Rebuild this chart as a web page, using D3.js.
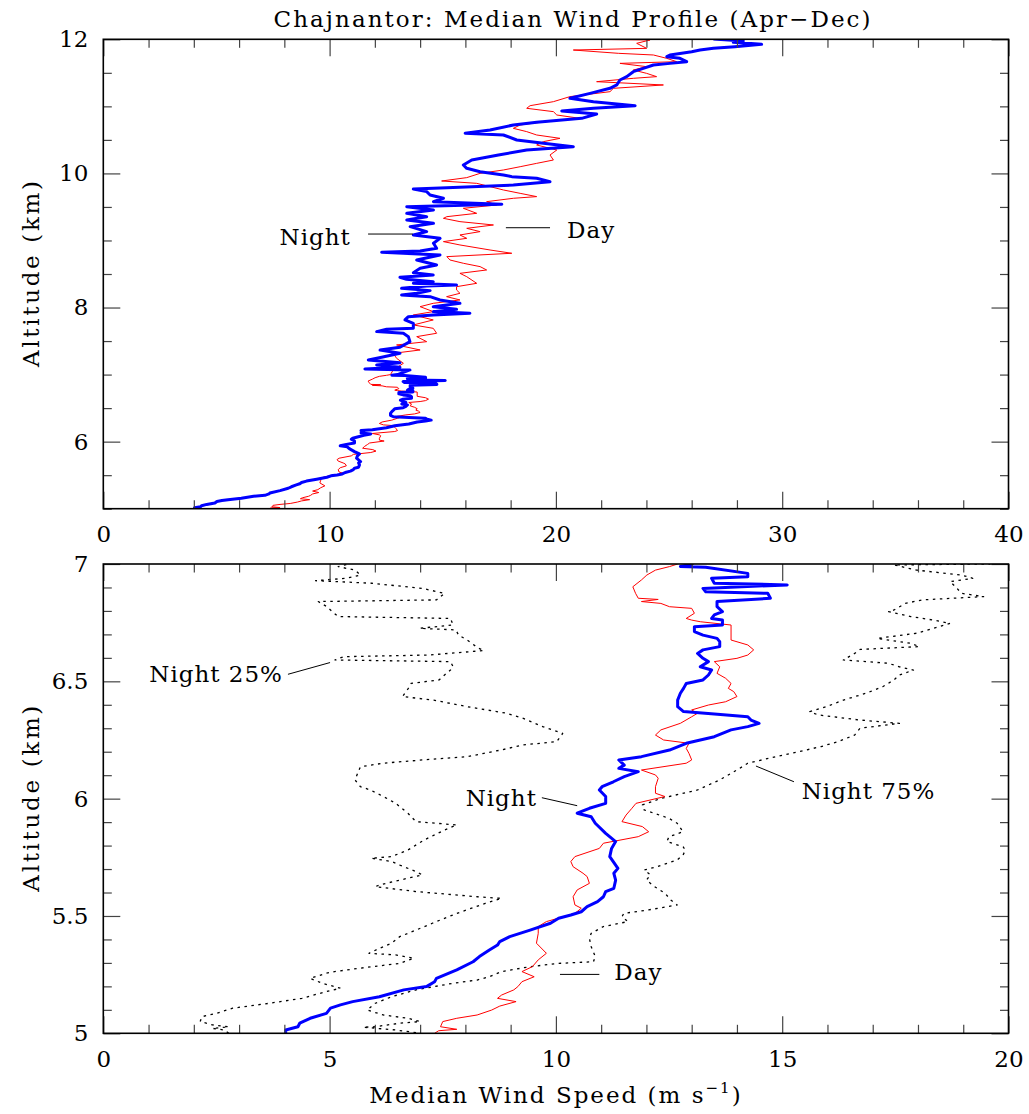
<!DOCTYPE html>
<html lang="en">
<head>
<meta charset="UTF-8">
<title>Chajnantor wind profile</title>
<style>
  body { margin: 0; background: #fff; }
  text { font-family: "DejaVu Serif", serif; fill: #000; }
</style>
</head>
<body>
<div class="container"></div>
<script src="https://cdn.jsdelivr.net/npm/d3@7/dist/d3.min.js"></script>
<script>
// ---- data: [altitude km, median wind speed m/s] ----
const nightLow = [[5.000,4.03],[5.014,4.03],[5.028,4.30],[5.043,4.34],[5.064,4.57],[5.085,4.93],[5.107,5.02],[5.121,5.24],[5.135,5.51],[5.156,6.10],[5.185,6.64],[5.199,7.14],[5.220,7.32],[5.234,7.36],[5.270,7.81],[5.305,8.17],[5.327,8.31],[5.355,8.53],[5.376,8.71],[5.391,8.76],[5.412,8.98],[5.440,9.43],[5.469,9.88],[5.490,10.06],[5.504,10.33],[5.518,10.56],[5.540,10.69],[5.561,10.92],[5.582,11.05],[5.604,11.10],[5.618,11.28],[5.653,11.32],[5.682,11.28],[5.703,11.37],[5.753,11.19],[5.788,11.23],[5.817,11.32],[5.852,11.10],[5.895,10.87],[5.923,10.78],[5.938,10.47],[5.959,10.74],[5.980,11.10],[6.009,11.10],[6.037,10.96],[6.051,11.02],[6.072,11.27],[6.094,11.51],[6.115,11.82],[6.129,11.39],[6.143,11.51],[6.165,11.39],[6.179,11.89],[6.207,12.51],[6.236,12.88],[6.264,13.50],[6.293,13.87],[6.307,14.24],[6.321,14.49],[6.335,14.31],[6.349,14.24],[6.361,13.50],[6.371,12.82],[6.392,12.69],[6.420,12.69],[6.449,12.75],[6.470,12.82],[6.491,12.88],[6.506,13.25],[6.527,13.37],[6.548,13.44],[6.562,13.19],[6.584,13.37],[6.598,13.25],[6.619,13.13],[6.634,13.25],[6.648,13.62],[6.669,13.62],[6.683,13.56],[6.697,13.25],[6.712,13.06],[6.733,13.06],[6.740,13.68],[6.761,13.68],[6.768,13.44],[6.783,13.50],[6.797,13.68],[6.818,13.56],[6.840,13.56],[6.854,14.74],[6.875,14.68],[6.882,13.31],[6.896,13.25],[6.911,15.11],[6.918,13.50],[6.939,13.44],[6.946,14.24],[6.960,14.24],[6.986,13.31],[6.989,12.75],[7.000,13.00]]

const nightHigh = [[7.069,13.55],[7.084,11.56],[7.109,13.11],[7.143,12.08],[7.178,13.11],[7.218,11.71],[7.258,12.30],[7.317,13.11],[7.367,12.23],[7.407,13.11],[7.491,13.55],[7.566,13.48],[7.616,13.26],[7.641,12.08],[7.675,12.52],[7.690,13.70],[7.765,13.70],[7.815,13.33],[7.864,13.48],[7.889,14.58],[7.914,16.20],[7.939,14.58],[7.974,15.61],[8.013,14.58],[8.063,15.76],[8.113,14.88],[8.162,14.44],[8.187,13.18],[8.212,13.85],[8.252,14.44],[8.287,13.18],[8.321,14.29],[8.336,15.61],[8.361,13.70],[8.386,14.58],[8.421,13.40],[8.451,13.11],[8.485,14.58],[8.520,13.70],[8.585,14.00],[8.635,14.73],[8.709,13.85],[8.784,14.88],[8.824,12.30],[8.843,14.00],[8.883,14.73],[8.958,14.59],[9.032,14.88],[9.082,13.70],[9.132,14.29],[9.206,13.56],[9.256,14.59],[9.306,13.41],[9.355,14.29],[9.405,13.41],[9.455,14.59],[9.504,13.41],[9.539,17.61],[9.579,14.59],[9.629,15.03],[9.678,14.44],[9.728,14.29],[9.768,13.70],[9.788,15.18],[9.827,18.12],[9.877,19.74],[9.927,19.15],[9.952,18.05],[9.977,17.68],[10.026,16.65],[10.076,16.06],[10.126,15.91],[10.200,16.28],[10.275,17.46],[10.349,18.71],[10.399,20.77],[10.449,19.45],[10.498,18.27],[10.573,17.68],[10.598,15.99],[10.648,17.09],[10.722,18.12],[10.762,19.15],[10.821,21.14],[10.886,21.80],[10.931,20.26],[10.971,21.66],[11.010,23.50],[11.070,21.66],[11.120,20.62],[11.194,21.51],[11.269,22.39],[11.319,22.69],[11.393,22.83],[11.443,23.13],[11.517,23.42],[11.567,23.86],[11.617,24.31],[11.641,25.04],[11.666,25.78],[11.716,25.48],[11.741,24.90],[11.766,25.04],[11.815,26.00],[11.840,26.37],[11.865,26.96],[11.890,27.91],[11.925,29.09],[11.955,27.84],[11.975,28.28],[12.004,26.96]]

const dayLow = [[5.000,7.32],[5.011,7.41],[5.017,7.81],[5.028,7.45],[5.050,7.50],[5.064,7.81],[5.078,8.26],[5.099,8.58],[5.116,8.76],[5.135,9.12],[5.149,8.71],[5.163,8.80],[5.185,9.07],[5.199,9.16],[5.220,9.25],[5.241,9.52],[5.263,9.25],[5.284,9.48],[5.313,9.61],[5.341,9.79],[5.384,9.57],[5.426,9.61],[5.455,9.61],[5.476,9.79],[5.511,10.42],[5.533,10.56],[5.547,10.42],[5.582,10.38],[5.611,10.47],[5.639,10.74],[5.668,10.69],[5.682,10.60],[5.710,10.38],[5.732,10.33],[5.753,10.42],[5.788,10.96],[5.810,11.05],[5.838,11.82],[5.859,12.05],[5.881,11.91],[5.902,11.46],[5.930,11.55],[5.959,11.68],[5.980,11.77],[6.009,12.41],[6.023,12.20],[6.051,12.20],[6.087,12.26],[6.101,12.20],[6.122,11.89],[6.151,12.88],[6.165,13.00],[6.193,12.94],[6.214,12.88],[6.236,12.94],[6.250,12.38],[6.271,12.20],[6.293,12.32],[6.321,12.75],[6.349,13.00],[6.364,13.13],[6.378,13.00],[6.399,13.37],[6.413,13.75],[6.435,14.00],[6.456,13.93],[6.470,13.81],[6.491,13.87],[6.513,13.75],[6.534,13.56],[6.562,13.62],[6.584,13.50],[6.598,14.00],[6.612,14.24],[6.634,14.37],[6.655,14.24],[6.676,13.87],[6.740,13.87],[6.754,13.19],[6.761,13.00],[6.768,12.88],[6.790,13.06],[6.811,13.00],[6.818,12.51],[6.832,12.32],[6.840,11.89],[6.849,12.26],[6.854,11.82],[6.875,11.76],[6.903,11.70],[6.932,11.89],[6.953,12.01],[6.974,12.20],[6.989,12.51],[7.000,12.69]]

const dayHigh = [[7.069,12.81],[7.168,13.26],[7.243,12.96],[7.317,12.81],[7.367,14.00],[7.442,12.96],[7.491,14.29],[7.566,13.85],[7.616,14.73],[7.690,14.58],[7.740,13.70],[7.815,14.58],[7.889,13.70],[7.939,14.58],[8.013,14.00],[8.063,14.58],[8.113,15.76],[8.162,15.17],[8.212,15.76],[8.262,15.61],[8.311,15.61],[8.361,16.50],[8.460,16.06],[8.510,15.76],[8.560,16.94],[8.610,16.65],[8.660,15.91],[8.709,15.32],[8.759,15.18],[8.809,18.05],[8.858,17.09],[8.933,15.76],[8.983,15.03],[9.032,16.06],[9.082,15.76],[9.132,16.65],[9.181,16.06],[9.231,17.24],[9.281,15.76],[9.330,15.03],[9.355,15.18],[9.405,16.50],[9.480,15.91],[9.529,17.38],[9.579,16.94],[9.629,18.12],[9.654,19.15],[9.703,18.42],[9.753,17.68],[9.803,17.09],[9.852,16.50],[9.887,14.95],[9.937,16.06],[10.001,16.65],[10.051,17.68],[10.100,18.42],[10.150,19.15],[10.200,19.89],[10.275,19.74],[10.349,20.04],[10.424,19.15],[10.474,19.45],[10.523,20.18],[10.573,19.15],[10.623,18.71],[10.672,18.12],[10.722,18.42],[10.762,19.30],[10.821,21.07],[10.871,20.04],[10.921,19.89],[10.971,18.71],[11.010,18.86],[11.070,19.89],[11.145,20.62],[11.219,22.39],[11.269,22.54],[11.319,24.75],[11.368,21.80],[11.418,23.42],[11.443,24.45],[11.492,24.01],[11.542,23.42],[11.592,24.01],[11.641,22.83],[11.666,25.34],[11.716,24.90],[11.766,24.31],[11.791,22.76],[11.840,20.77],[11.865,24.01],[11.940,23.57],[11.990,24.16],[12.000,21.14]]

const night25 = [[5.000,2.77],[5.014,2.68],[5.021,2.41],[5.028,2.77],[5.036,2.41],[5.050,2.14],[5.071,2.18],[5.085,2.50],[5.107,2.86],[5.128,3.67],[5.149,4.39],[5.178,4.93],[5.192,5.24],[5.213,4.84],[5.234,4.57],[5.256,4.93],[5.263,5.11],[5.277,5.65],[5.298,6.55],[5.320,6.86],[5.334,6.46],[5.341,5.87],[5.362,6.10],[5.384,6.37],[5.412,6.55],[5.440,6.91],[5.469,7.27],[5.511,7.81],[5.554,8.44],[5.575,8.80],[5.582,8.26],[5.604,6.91],[5.625,6.01],[5.632,6.10],[5.653,6.55],[5.675,7.05],[5.689,6.91],[5.717,6.55],[5.732,6.37],[5.746,5.92],[5.753,6.37],[5.781,6.73],[5.824,7.09],[5.866,7.54],[5.888,7.81],[5.902,6.91],[5.938,6.73],[5.980,6.46],[6.009,6.19],[6.037,5.90],[6.051,5.68],[6.080,5.56],[6.108,5.62],[6.136,5.68],[6.151,6.18],[6.165,7.05],[6.179,8.04],[6.193,8.41],[6.207,8.78],[6.229,9.28],[6.243,10.02],[6.278,10.15],[6.307,9.71],[6.342,9.28],[6.364,8.91],[6.392,8.04],[6.420,7.30],[6.435,6.61],[6.470,6.74],[6.491,6.80],[6.506,7.42],[6.527,7.54],[6.548,7.67],[6.562,7.73],[6.584,7.67],[6.591,5.12],[6.605,5.31],[6.612,7.17],[6.631,8.41],[6.641,8.29],[6.676,8.04],[6.697,7.85],[6.719,7.79],[6.726,6.99],[6.740,7.73],[6.768,7.67],[6.776,5.19],[6.797,5.06],[6.818,4.94],[6.840,4.75],[6.847,7.36],[6.875,7.54],[6.896,7.05],[6.918,5.93],[6.929,4.69],[6.939,5.37],[6.953,5.68],[6.974,5.56],[6.989,5.19],[7.000,5.43]]

const night75 = [[5.003,6.91],[5.014,6.46],[5.026,5.74],[5.028,6.01],[5.043,6.55],[5.050,7.00],[5.064,6.73],[5.078,6.19],[5.099,5.83],[5.128,6.01],[5.156,6.37],[5.185,6.91],[5.213,7.72],[5.227,8.26],[5.241,8.53],[5.263,8.80],[5.284,9.43],[5.298,10.06],[5.305,10.83],[5.327,10.87],[5.369,10.78],[5.405,10.74],[5.426,10.78],[5.455,11.05],[5.476,11.59],[5.497,11.46],[5.511,11.50],[5.526,12.05],[5.547,12.68],[5.568,12.54],[5.597,12.41],[5.625,12.18],[5.653,12.00],[5.675,12.09],[5.696,11.95],[5.710,12.23],[5.739,12.68],[5.760,12.81],[5.781,12.86],[5.795,12.81],[5.817,12.45],[5.838,12.50],[5.859,12.81],[5.895,12.68],[5.916,12.50],[5.952,11.95],[5.973,11.91],[6.001,12.32],[6.037,13.13],[6.080,13.62],[6.122,14.00],[6.151,14.24],[6.179,14.86],[6.200,15.36],[6.222,15.86],[6.243,16.23],[6.271,16.60],[6.300,16.72],[6.321,17.59],[6.335,16.72],[6.357,15.79],[6.371,15.61],[6.392,15.98],[6.420,16.35],[6.449,16.85],[6.477,17.22],[6.506,17.47],[6.527,17.59],[6.548,17.90],[6.562,17.59],[6.577,17.34],[6.591,16.35],[6.619,16.60],[6.636,16.72],[6.648,18.03],[6.662,17.84],[6.683,17.10],[6.705,17.97],[6.733,18.46],[6.747,18.71],[6.761,18.34],[6.776,17.84],[6.797,17.35],[6.804,17.47],[6.832,17.72],[6.847,18.09],[6.861,19.45],[6.875,18.96],[6.903,18.83],[6.925,18.71],[6.939,19.21],[6.953,18.96],[6.974,17.97],[6.996,17.47],[7.000,19.60]]

// tick values
const topXMajor = [0, 10, 20, 30, 40]
const topYMajor = [6, 8, 10, 12]
const botXMajor = [0, 5, 10, 15, 20]
const botYMajor = [5, 5.5, 6, 6.5, 7]

// labels: [text, speed, alt, anchor] and leader lines [[speed, alt], [speed, alt]]
const topLabels = [["Night", 10.94, 8.93, "end"], ["Day", 20.49, 9.04, "start"]]
const topLeaders = [[[11.70, 9.096], [13.68, 9.096]], [[17.79, 9.19], [19.74, 9.19]]]
const botLabels = [["Night 25%", 3.97, 6.498, "end"], ["Night 75%", 15.43, 5.998, "start"],
                   ["Night", 9.58, 5.968, "end"], ["Day", 11.29, 5.227, "start"]]
const botLeaders = [[[4.08, 6.53], [5.01, 6.58]], [[15.26, 6.072], [14.42, 6.139]],
                    [[9.69, 6.004], [10.47, 5.970]], [[10.09, 5.251], [10.96, 5.251]]]

// ---- layout ----
const width = 1029
const height = 1114
const left = 103.3
const right = 1008.5
const fontSize = 23

const svg = d3.select('.container').append('svg')
    .attr('width', width).attr('height', height)

const nightAll = nightLow.concat(nightHigh)
const dayAll = dayLow.concat(dayHigh)

function panel(opts) {
    const x = d3.scaleLinear().domain(opts.xDomain).range([left, right])
    const y = d3.scaleLinear().domain(opts.yDomain).range([opts.bottom, opts.top])
    const g = svg.append('g')

    g.append('clipPath').attr('id', opts.id)
        .append('rect')
        .attr('x', left).attr('y', opts.top)
        .attr('width', right - left).attr('height', opts.bottom - opts.top)

    const line = d3.line().x(d => x(d[1])).y(d => y(d[0]))
    const plot = g.append('g').attr('clip-path', `url(#${opts.id})`)

    opts.series.forEach(s => {
        plot.append('path')
            .datum(s.data)
            .attr('fill', 'none')
            .attr('stroke', s.color)
            .attr('stroke-width', s.width)
            .attr('stroke-dasharray', s.dash || null)
            .attr('stroke-linejoin', 'round')
            .attr('d', line)
    })

    // minor + major ticks on all four sides, pointing inward
    const xMinor = opts.xMinor.filter(v => !opts.xMajor.includes(v))
    const yMinor = opts.yMinor.filter(v => !opts.yMajor.includes(v))
    const sides = [
        [() => d3.axisBottom(x), `translate(0,${opts.bottom})`, true, true],
        [() => d3.axisTop(x), `translate(0,${opts.top})`, true, false],
        [() => d3.axisLeft(y), `translate(${left},0)`, false, true],
        [() => d3.axisRight(y), `translate(${right},0)`, false, false]
    ]
    sides.forEach(([make, tr, isX, labelled]) => {
        g.append('g').attr('transform', tr)
            .call(make().tickValues(isX ? xMinor : yMinor)
                .tickSizeInner(-8.5).tickSizeOuter(0).tickFormat(''))
            .call(a => a.select('.domain').remove())
        g.append('g').attr('transform', tr)
            .call(make().tickValues(isX ? opts.xMajor : opts.yMajor)
                .tickSizeInner(-17).tickSizeOuter(0)
                .tickPadding(isX ? 17 : 15)
                .tickFormat(d => labelled ? d : ''))
            .call(a => a.select('.domain').remove())
            .call(a => a.selectAll('text').style('font-family', '"DejaVu Serif", serif')
                .style('font-size', fontSize + 'px').attr('fill', '#000'))
    })
    g.selectAll('.tick line').attr('stroke', '#444').attr('stroke-width', 1.2)

    // frame
    g.append('rect')
        .attr('x', left).attr('y', opts.top)
        .attr('width', right - left).attr('height', opts.bottom - opts.top)
        .attr('fill', 'none').attr('stroke', '#000').attr('stroke-width', 1.6)

    // annotations
    opts.leaders.forEach(l => {
        g.append('line')
            .attr('x1', x(l[0][0])).attr('y1', y(l[0][1]))
            .attr('x2', x(l[1][0])).attr('y2', y(l[1][1]))
            .attr('stroke', '#000').attr('stroke-width', 1)
    })
    opts.labels.forEach(l => {
        g.append('text')
            .attr('x', x(l[1])).attr('y', y(l[2]))
            .attr('text-anchor', l[3])
            .style('font-size', fontSize + 'px')
            .style('letter-spacing', '1px')
            .text(l[0])
    })

    // y axis title
    g.append('text')
        .attr('transform', `translate(39,${(opts.top + opts.bottom) / 2}) rotate(-90)`)
        .attr('text-anchor', 'middle')
        .attr('textLength', 186)
        .attr('lengthAdjust', 'spacing')
        .style('font-size', fontSize + 'px')
        .text('Altitude (km)')
}

panel({
    id: 'clipTop', top: 39.3, bottom: 508.7,
    xDomain: [0, 40], yDomain: [5, 12],
    xMajor: topXMajor, xMinor: d3.range(0, 41, 2),
    yMajor: topYMajor, yMinor: d3.range(5, 12.01, 0.5).map(v => +v.toFixed(1)),
    series: [
        { data: dayAll, color: '#ff0000', width: 1 },
        { data: nightAll, color: '#0000ff', width: 3 }
    ],
    labels: topLabels, leaders: topLeaders
})

panel({
    id: 'clipBot', top: 564, bottom: 1033.3,
    xDomain: [0, 20], yDomain: [5, 7],
    xMajor: botXMajor, xMinor: d3.range(0, 21, 1),
    yMajor: botYMajor, yMinor: d3.range(5, 7.01, 0.1).map(v => +v.toFixed(1)),
    series: [
        { data: night25, color: '#000', width: 1.3, dash: '2.5,4.5' },
        { data: night75, color: '#000', width: 1.3, dash: '2.5,4.5' },
        { data: dayAll, color: '#ff0000', width: 1 },
        { data: nightAll, color: '#0000ff', width: 3 }
    ],
    labels: botLabels, leaders: botLeaders
})

// title
svg.append('text')
    .attr('x', 572).attr('y', 27)
    .attr('text-anchor', 'middle')
    .attr('textLength', 597)
    .attr('lengthAdjust', 'spacing')
    .style('font-size', fontSize + 'px')
    .text('Chajnantor: Median Wind Profile (Apr\u2212Dec)')

// x axis title
const xt = svg.append('text')
    .attr('x', 556).attr('y', 1103)
    .attr('text-anchor', 'middle')
    .style('font-size', fontSize + 'px')
    .style('letter-spacing', '2px')
xt.append('tspan').text('Median Wind Speed (m s')
xt.append('tspan').attr('dy', -10).style('font-size', '15px').text('\u22121')
xt.append('tspan').attr('dy', 10).text(')')
</script>
</body>
</html>
